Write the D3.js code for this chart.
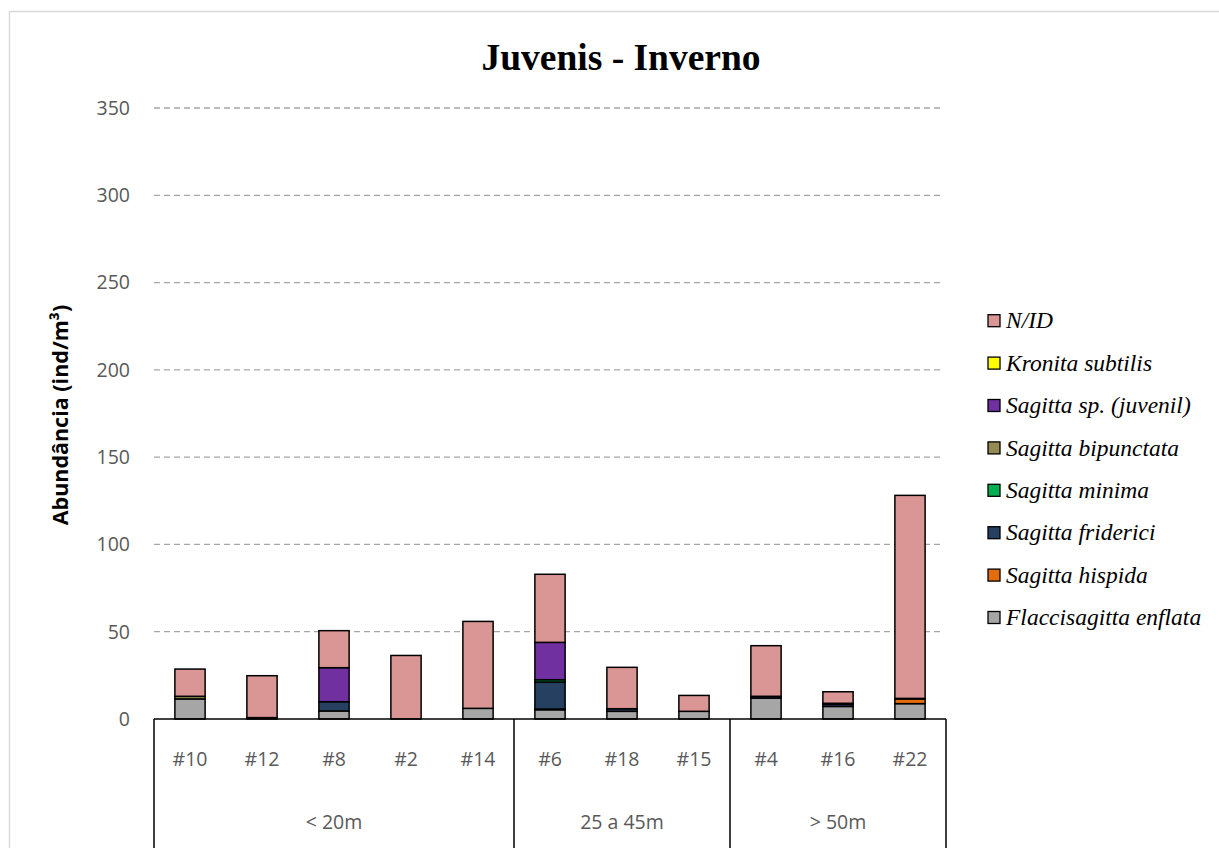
<!DOCTYPE html>
<html>
<head>
<meta charset="utf-8">
<script src="https://cdn.jsdelivr.net/npm/d3@7"></script>
<style>
  body { margin: 0; background: #fff; }
  svg { display: block; }
</style>
</head>
<body>
<div id="chart"></div>
<script>
// stations along the x axis and the depth group each one sits in
var stations = ["#10", "#12", "#8", "#2", "#14", "#6", "#18", "#15", "#4", "#16", "#22"];
var groups = ["< 20m", "25 a 45m", "> 50m"];
var groupSizes = [5, 3, 3];

// stacked series, bottom to top
var flaccisagitta = [11.5, 0, 4.6, 0, 6.1, 5.3, 4.4, 4.4, 12.0, 7.2, 8.8];
var hispida      = [0, 0, 0, 0, 0, 0.4, 0, 0, 0, 0, 2.7];
var fridirici    = [0, 0.8, 5.3, 0, 0, 15.5, 1.5, 0, 1.0, 1.2, 0.3];
var minima       = [0, 0, 0, 0, 0, 1.3, 0, 0, 0, 0, 0];
var bipunctata   = [1.5, 0, 0, 0, 0, 0, 0, 0, 0, 0, 0];
var juvenil      = [0, 0, 19.5, 0, 0, 21.4, 0, 0, 0, 0.6, 0];
var kronita      = [0, 0, 0, 0, 0, 0, 0, 0, 0, 0, 0];
var nid          = [15.6, 24.0, 21.2, 36.4, 49.8, 39.0, 23.7, 9.1, 29.0, 6.6, 116.3];

var seriesNames = ["Flaccisagitta enflata", "Sagitta hispida", "Sagitta friderici", "Sagitta minima",
                   "Sagitta bipunctata", "Sagitta sp. (juvenil)", "Kronita subtilis", "N/ID"];
var seriesValues = [flaccisagitta, hispida, fridirici, minima, bipunctata, juvenil, kronita, nid];
var seriesColors = ["#a6a6a6", "#e46c0a", "#254061", "#00b050", "#948a54", "#7030a0", "#ffff00", "#d99694"];

var yTicks = [0, 50, 100, 150, 200, 250, 300, 350];

(function() {
  var W = 1219, H = 848;
  var plotLeft = 154, plotRight = 946, plotTop = 108, plotBottom = 719;
  var sans = "'Open Sans', sans-serif";
  var serif = "'Liberation Serif', 'Times New Roman', serif";

  var svg = d3.select("#chart").append("svg")
    .attr("width", W)
    .attr("height", H);

  // outer chart border
  svg.append("rect")
    .attr("x", 9.5).attr("y", 11.5)
    .attr("width", W).attr("height", H)
    .attr("fill", "#fff")
    .attr("stroke", "#d9d9d9")
    .attr("stroke-width", 1.5);

  var x = d3.scaleBand()
    .domain(stations)
    .range([plotLeft, plotRight])
    .paddingInner(0.58)
    .paddingOuter(0.29);

  var y = d3.scaleLinear()
    .domain([0, 350])
    .range([plotBottom, plotTop]);

  // gridlines
  svg.append("g").selectAll("line")
    .data(yTicks.filter(function(d) { return d > 0; }))
    .enter().append("line")
    .attr("x1", plotLeft).attr("x2", plotRight - 3)
    .attr("y1", function(d) { return y(d); })
    .attr("y2", function(d) { return y(d); })
    .attr("stroke", "#a6a6a6")
    .attr("stroke-width", 1.3)
    .attr("stroke-dasharray", "6,4");

  // y tick labels
  svg.append("g").selectAll("text")
    .data(yTicks)
    .enter().append("text")
    .attr("x", 130)
    .attr("y", function(d) { return y(d); })
    .attr("dy", "0.35em")
    .attr("text-anchor", "end")
    .attr("font-family", sans)
    .attr("font-size", 19.5)
    .attr("fill", "#595959")
    .text(function(d) { return d; });

  // y axis title
  svg.append("text")
    .attr("transform", "translate(60," + 415 + ") rotate(-90)")
    .attr("text-anchor", "middle")
    .attr("dy", "0.35em")
    .attr("font-family", sans)
    .attr("font-weight", "bold")
    .attr("font-size", 21.5)
    .attr("fill", "#000")
    .text("Abundância (ind/m³)");

  // title
  svg.append("text")
    .attr("x", 621)
    .attr("y", 70)
    .attr("text-anchor", "middle")
    .attr("font-family", serif)
    .attr("font-weight", "bold")
    .attr("font-size", 37.5)
    .text("Juvenis - Inverno");

  // stacked bars
  var rows = stations.map(function(s, i) {
    var r = { station: s };
    seriesNames.forEach(function(n, k) { r[n] = seriesValues[k][i]; });
    return r;
  });
  var stacked = d3.stack().keys(seriesNames)(rows);

  svg.append("g").selectAll("g")
    .data(stacked)
    .enter().append("g")
    .attr("fill", function(d, k) { return seriesColors[k]; })
    .selectAll("rect")
    .data(function(d) { return d.filter(function(p) { return p[1] - p[0] > 0; }); })
    .enter().append("rect")
    .attr("x", function(p) { return x(p.data.station); })
    .attr("width", x.bandwidth())
    .attr("y", function(p) { return y(p[1]); })
    .attr("height", function(p) { return y(p[0]) - y(p[1]); })
    .attr("stroke", "#000")
    .attr("stroke-width", 1.5);

  // x axis line
  svg.append("line")
    .attr("x1", plotLeft).attr("x2", plotRight)
    .attr("y1", plotBottom).attr("y2", plotBottom)
    .attr("stroke", "#000").attr("stroke-width", 1.5);

  // station labels
  svg.append("g").selectAll("text")
    .data(stations)
    .enter().append("text")
    .attr("x", function(d) { return x(d) + x.bandwidth() / 2; })
    .attr("y", 759)
    .attr("dy", "0.35em")
    .attr("text-anchor", "middle")
    .attr("font-family", sans)
    .attr("font-size", 19.5)
    .attr("fill", "#595959")
    .text(function(d) { return d; });

  // group boundaries and labels
  var step = x.step();
  var start = 0;
  var bounds = [plotLeft];
  groups.forEach(function(g, i) {
    var x0 = plotLeft + start * step;
    var x1 = plotLeft + (start + groupSizes[i]) * step;
    bounds.push(x1);
    svg.append("text")
      .attr("x", (x0 + x1) / 2)
      .attr("y", 822)
      .attr("dy", "0.35em")
      .attr("text-anchor", "middle")
      .attr("font-family", sans)
      .attr("font-size", 19.5)
      .attr("fill", "#595959")
      .text(g);
    start += groupSizes[i];
  });

  svg.append("g").selectAll("line")
    .data(bounds)
    .enter().append("line")
    .attr("x1", function(d) { return d; })
    .attr("x2", function(d) { return d; })
    .attr("y1", plotBottom).attr("y2", H)
    .attr("stroke", "#000").attr("stroke-width", 1.5);

  // legend, top entry is N/ID
  var legendOrder = seriesNames.slice().reverse();
  var legendColors = seriesColors.slice().reverse();
  var legend = svg.append("g").selectAll("g")
    .data(legendOrder)
    .enter().append("g")
    .attr("transform", function(d, i) { return "translate(988," + (320.7 + i * 42.4) + ")"; });

  legend.append("rect")
    .attr("x", 0).attr("y", -6)
    .attr("width", 12).attr("height", 12)
    .attr("fill", function(d, i) { return legendColors[i]; })
    .attr("stroke", "#000").attr("stroke-width", 1.3);

  legend.append("text")
    .attr("x", 18)
    .attr("y", 0)
    .attr("dy", "0.33em")
    .attr("font-family", serif)
    .attr("font-style", "italic")
    .attr("font-size", 23.5)
    .text(function(d) { return d; });
})();
</script>
</body>
</html>
